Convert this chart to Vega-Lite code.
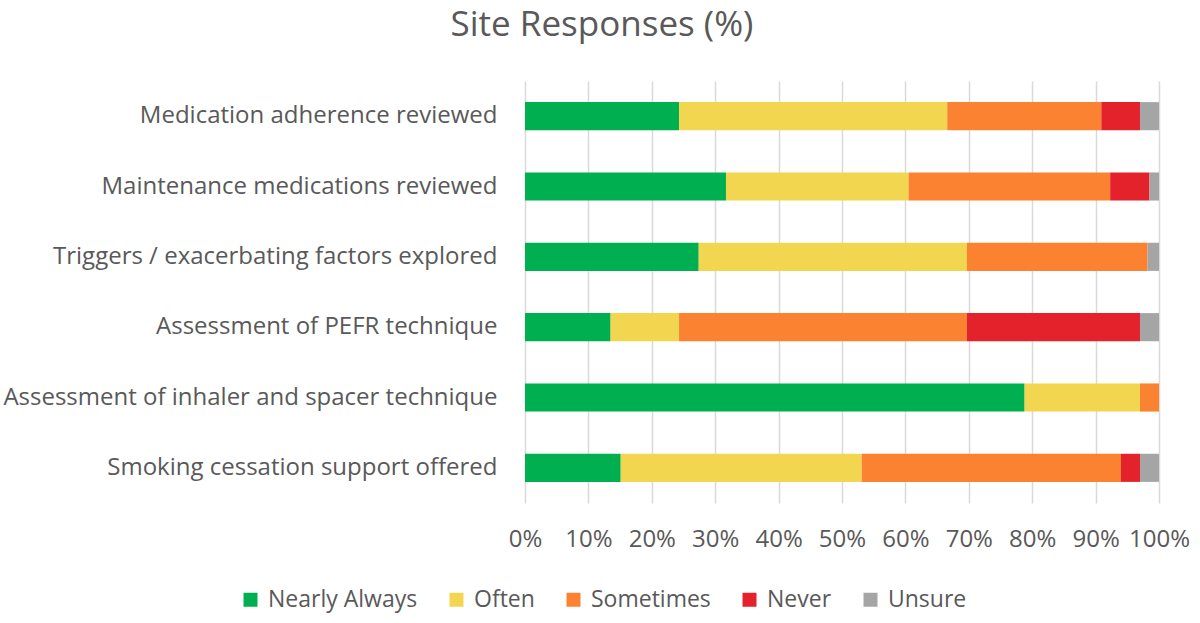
{
  "$schema": "https://vega.github.io/schema/vega-lite/v6.json",
  "autosize": {"type": "none"},
  "padding": {"left": 525, "top": 81, "right": 41, "bottom": 120},
  "width": 634,
  "height": 422,
  "background": "white",
  "title": {
    "text": "Site Responses (%)",
    "font": "Open Sans",
    "fontSize": 35,
    "fontWeight": "normal",
    "color": "#595959",
    "anchor": "middle",
    "frame": "group",
    "dx": -240,
    "offset": 38
  },
  "data": {
    "values": [
      {"item": "Medication adherence reviewed", "response": "Nearly Always", "ord": 1, "pct": 24.3},
      {"item": "Medication adherence reviewed", "response": "Often", "ord": 2, "pct": 42.3},
      {"item": "Medication adherence reviewed", "response": "Sometimes", "ord": 3, "pct": 24.3},
      {"item": "Medication adherence reviewed", "response": "Never", "ord": 4, "pct": 6.1},
      {"item": "Medication adherence reviewed", "response": "Unsure", "ord": 5, "pct": 3.0},
      {"item": "Maintenance medications reviewed", "response": "Nearly Always", "ord": 1, "pct": 31.7},
      {"item": "Maintenance medications reviewed", "response": "Often", "ord": 2, "pct": 28.8},
      {"item": "Maintenance medications reviewed", "response": "Sometimes", "ord": 3, "pct": 31.8},
      {"item": "Maintenance medications reviewed", "response": "Never", "ord": 4, "pct": 6.2},
      {"item": "Maintenance medications reviewed", "response": "Unsure", "ord": 5, "pct": 1.5},
      {"item": "Triggers / exacerbating factors explored", "response": "Nearly Always", "ord": 1, "pct": 27.4},
      {"item": "Triggers / exacerbating factors explored", "response": "Often", "ord": 2, "pct": 42.3},
      {"item": "Triggers / exacerbating factors explored", "response": "Sometimes", "ord": 3, "pct": 28.5},
      {"item": "Triggers / exacerbating factors explored", "response": "Never", "ord": 4, "pct": 0},
      {"item": "Triggers / exacerbating factors explored", "response": "Unsure", "ord": 5, "pct": 1.8},
      {"item": "Assessment of PEFR technique", "response": "Nearly Always", "ord": 1, "pct": 13.5},
      {"item": "Assessment of PEFR technique", "response": "Often", "ord": 2, "pct": 10.8},
      {"item": "Assessment of PEFR technique", "response": "Sometimes", "ord": 3, "pct": 45.4},
      {"item": "Assessment of PEFR technique", "response": "Never", "ord": 4, "pct": 27.3},
      {"item": "Assessment of PEFR technique", "response": "Unsure", "ord": 5, "pct": 3.0},
      {"item": "Assessment of inhaler and spacer technique", "response": "Nearly Always", "ord": 1, "pct": 78.8},
      {"item": "Assessment of inhaler and spacer technique", "response": "Often", "ord": 2, "pct": 18.2},
      {"item": "Assessment of inhaler and spacer technique", "response": "Sometimes", "ord": 3, "pct": 3.0},
      {"item": "Assessment of inhaler and spacer technique", "response": "Never", "ord": 4, "pct": 0},
      {"item": "Assessment of inhaler and spacer technique", "response": "Unsure", "ord": 5, "pct": 0},
      {"item": "Smoking cessation support offered", "response": "Nearly Always", "ord": 1, "pct": 15.1},
      {"item": "Smoking cessation support offered", "response": "Often", "ord": 2, "pct": 38.0},
      {"item": "Smoking cessation support offered", "response": "Sometimes", "ord": 3, "pct": 40.9},
      {"item": "Smoking cessation support offered", "response": "Never", "ord": 4, "pct": 3.0},
      {"item": "Smoking cessation support offered", "response": "Unsure", "ord": 5, "pct": 3.0}
    ]
  },
  "mark": {"type": "bar"},
  "encoding": {
    "y": {
      "field": "item",
      "type": "nominal",
      "sort": null,
      "scale": {"paddingInner": 0.6, "paddingOuter": 0.3},
      "axis": {
        "title": null,
        "domain": false,
        "ticks": false,
        "labelFont": "Open Sans",
        "labelFontSize": 24,
        "labelColor": "#595959",
        "labelPadding": 28,
        "labelLimit": 600
      }
    },
    "x": {
      "field": "pct",
      "type": "quantitative",
      "stack": "normalize",
      "scale": {"domain": [0, 1], "nice": false},
      "axis": {
        "title": null,
        "values": [0, 0.1, 0.2, 0.3, 0.4, 0.5, 0.6, 0.7, 0.8, 0.9, 1],
        "format": ".0%",
        "domain": false,
        "ticks": false,
        "grid": true,
        "gridColor": "#d9d9d9",
        "gridWidth": 1.5,
        "labelFont": "Open Sans",
        "labelFontSize": 24,
        "labelColor": "#595959",
        "labelPadding": 24,
        "labelOverlap": false,
        "labelFlush": false
      }
    },
    "color": {
      "field": "response",
      "type": "nominal",
      "scale": {
        "domain": ["Nearly Always", "Often", "Sometimes", "Never", "Unsure"],
        "range": ["#00b050", "#f3d64f", "#fb8231", "#e3222b", "#a5a5a5"]
      },
      "legend": {
        "title": null,
        "orient": "none",
        "direction": "horizontal",
        "legendX": -286,
        "legendY": 507,
        "symbolType": "square",
        "symbolSize": 196,
        "symbolStrokeWidth": 0,
        "symbolOpacity": 1,
        "labelFont": "Open Sans",
        "labelFontSize": 23,
        "labelColor": "#595959",
        "labelOffset": 6,
        "columnPadding": 27
      }
    },
    "order": {"field": "ord", "type": "quantitative", "sort": "ascending"}
  },
  "config": {
    "view": {"stroke": null}
  }
}
